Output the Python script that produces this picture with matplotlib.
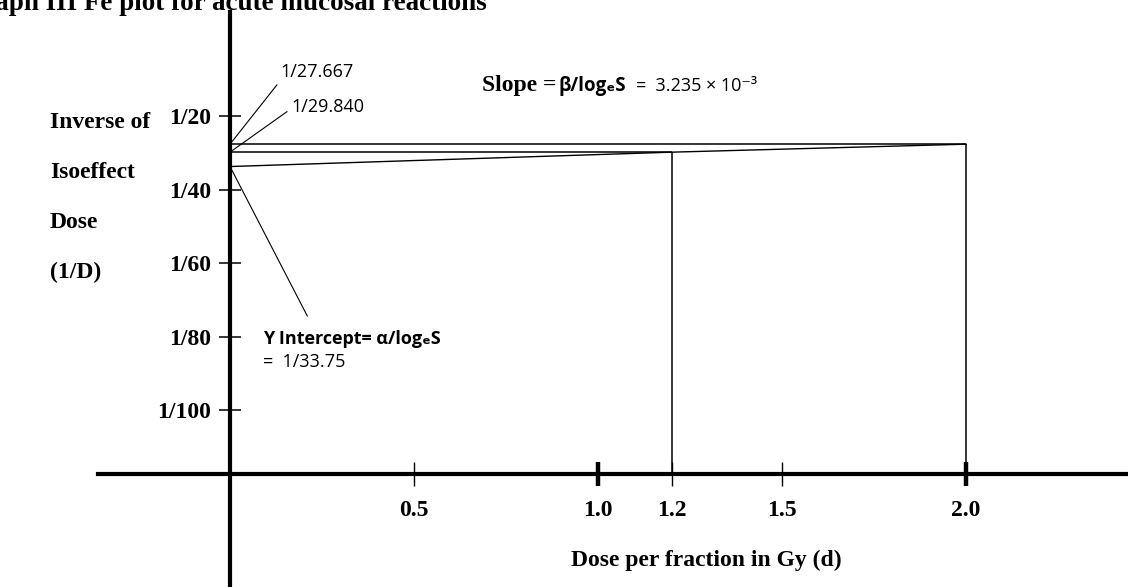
import matplotlib.pyplot as plt

# values (acute mucosal reactions)
dose_ticks = [0.5, 1.0, 1.2, 1.5, 2.0]
dose_labels = ["0.5", "1.0", "1.2", "1.5", "2.0"]
thick_ticks = [1.0, 2.0]
iso_dose_ticks = [20, 40, 60, 80, 100]      # isoeffect dose D, axis reads 1/D
iso_dose_labels = ["1/20", "1/40", "1/60", "1/80", "1/100"]
fe_dose = [0.0, 1.2, 2.0]
fe_iso_dose = [33.75, 29.840, 27.667]
side_labels = ["Inverse of", "Isoeffect", "Dose", "(1/D)"]

W, H = 1128, 587
SERIF = dict(family="Liberation Serif", weight="bold", size=17)
SANS = ["Open Sans", "DejaVu Sans"]
X_AXIS_D = 117.4   # where the dose axis crosses, in D units


def fig_text(x, y, s, **kw):
    # x, y in pixels from the top-left corner
    return fig.text(x / W, 1 - y / H, s, va="baseline", **kw)


fig = plt.figure(figsize=(W / 100, H / 100), dpi=100)
ax = fig.add_axes([0, 0, 1, 1])
ax.set_xlim(-0.625, 2.44)
ax.set_ylim(148.16, -11.565)

# Fe line plus guide lines to the two measured points
ax.plot(fe_dose, fe_iso_dose, color="black", lw=1.0)
ax.hlines(fe_iso_dose[1:], 0, fe_dose[1:], color="black", lw=1.1)
ax.vlines(fe_dose[1:], X_AXIS_D, fe_iso_dose[1:], color="black", lw=1.1)

# axes drawn as crossing spines
for s in ("top", "right"):
    ax.spines[s].set_visible(False)
ax.spines["left"].set_position(("data", 0))
ax.spines["left"].set_bounds(-8.3, 148.16)
ax.spines["left"].set_linewidth(3)
ax.spines["bottom"].set_position(("data", X_AXIS_D))
ax.spines["bottom"].set_bounds(-0.359, 2.44)
ax.spines["bottom"].set_linewidth(3)

ax.set_xticks(dose_ticks, dose_labels, **SERIF)
ax.tick_params(axis="x", direction="inout", length=17, width=1, pad=10)
for tick, val in zip(ax.xaxis.get_major_ticks(), dose_ticks):
    if val in thick_ticks:
        tick.tick1line.set_markeredgewidth(3.2)

ax.set_yticks(iso_dose_ticks, iso_dose_labels, **SERIF)
ax.tick_params(axis="y", direction="inout", length=16, width=1.1, pad=5.8)

# texts
fig_text(487, 10.5, "Graph III Fe plot for acute mucosal reactions", ha="right",
         family="Liberation Serif", weight="bold", size=19.5)
for i, lab in enumerate(side_labels):
    fig_text(50, 128 + 50 * i, lab, **SERIF)
fig_text(706, 566, "Dose per fraction in Gy (d)", ha="center", **SERIF)

fig_text(482, 90.7, "Slope =", **SERIF)
fig_text(558, 90.7, "β/logₑS", family=SANS, weight="bold", size=13.5)
fig_text(636, 90.7, "=  3.235 × 10⁻³", family=SANS, size=13)

leader = dict(arrowstyle="-", color="black", lw=0.8, shrinkA=1, shrinkB=2)
ax.annotate("1/27.667", xy=(0, fe_iso_dose[2]), xytext=(280, H - 77),
            textcoords="figure pixels", ha="left", va="baseline", family=SANS, size=13,
            arrowprops=dict(leader, relpos=(0, 0)))
ax.annotate("1/29.840", xy=(0, fe_iso_dose[1]), xytext=(291, H - 112),
            textcoords="figure pixels", ha="left", va="baseline", family=SANS, size=13,
            arrowprops=dict(leader, relpos=(0, 0.4)))
ax.annotate("Y Intercept= α/logₑS", xy=(0, fe_iso_dose[0]), xytext=(263, H - 344),
            textcoords="figure pixels", ha="left", va="baseline", family=SANS, size=13,
            weight="bold", arrowprops=dict(leader, relpos=(0.29, 1), shrinkA=9))
fig_text(263, 367, "=  1/33.75", family=SANS, size=13)

fig.savefig("out.png", dpi=100)
